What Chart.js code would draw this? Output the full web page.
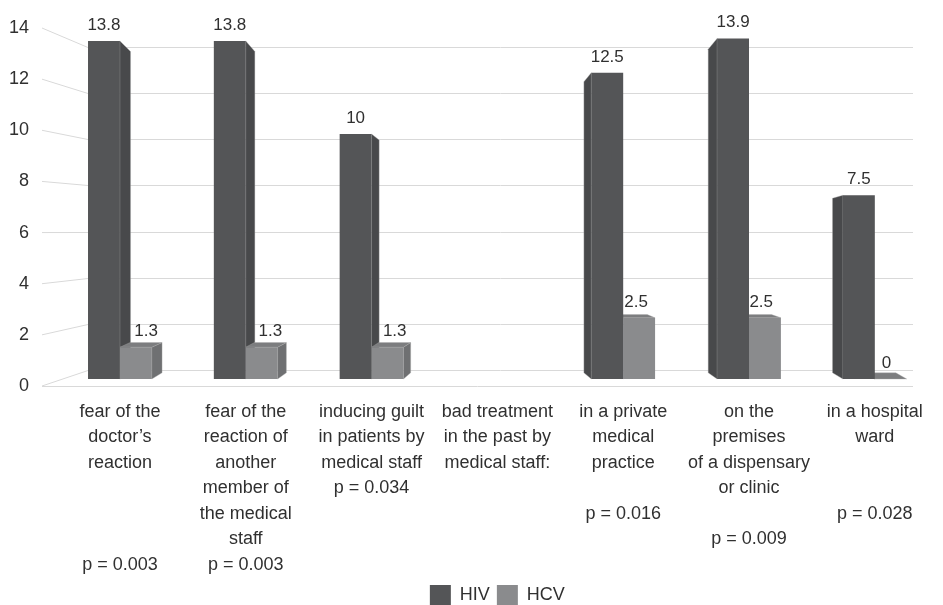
<!DOCTYPE html>
<html>
<head>
<meta charset="utf-8">
<script src="https://cdn.jsdelivr.net/npm/chart.js@4.4.1/dist/chart.umd.min.js"></script>
<style>
  html, body { margin: 0; padding: 0; background: #fff; overflow: hidden; }
  #wrap { width: 943px; height: 616px; }
</style>
</head>
<body>
<div id="wrap"><canvas id="ch"></canvas></div>
<script>
/* ---------- Data ---------- */
const CATEGORIES = [
  ['fear of the', 'doctor’s', 'reaction', '', '', '', 'p = 0.003'],
  ['fear of the', 'reaction of', 'another', 'member of', 'the medical', 'staff', 'p = 0.003'],
  ['inducing guilt', 'in patients by', 'medical staff', 'p = 0.034'],
  ['bad treatment', 'in the past by', 'medical staff:'],
  ['in a private', 'medical', 'practice', '', 'p = 0.016'],
  ['on the', 'premises', 'of a dispensary', 'or clinic', '', 'p = 0.009'],
  ['in a hospital', 'ward', '', '', 'p = 0.028'],
];
const HIV = [13.8, 13.8, 10, null, 12.5, 13.9, 7.5];
const HCV = [1.3, 1.3, 1.3, null, 2.5, 2.5, 0];
const Y_MIN = 0;
const Y_MAX = 14;
const Y_STEP = 2;

/* ---------- Fake 3D look (Excel style walls + box faces) ---------- */
const TEXT = '#303030';
const FONT = "'Liberation Sans', Arial, sans-serif";
const WALL = {
  labelX: 29, frontX: 42, backX: 88, rightX: 913,
  labelTop: 28, labelBottom: 386, backTop: 47, backBottom: 370, floorFront: 386,
};
const VP = { x: 490, y: 255 }; // rough vanishing point of the projection
const FACES = [
  { side: '#48494b', top: '#505153' },
  { side: '#6f7072', top: '#7c7d7f' },
];

function depth(x, y) {
  const d = VP.x - x;
  return { dx: Math.sign(d) * (6 + 0.012 * Math.abs(d)), dy: 0.05 * (VP.y - y) };
}

function poly(ctx, pts, fill) {
  ctx.beginPath();
  pts.forEach(([px, py], i) => (i ? ctx.lineTo(px, py) : ctx.moveTo(px, py)));
  ctx.closePath();
  ctx.fillStyle = fill;
  ctx.fill();
  ctx.strokeStyle = 'rgba(170,170,170,0.45)';
  ctx.lineWidth = 0.8;
  ctx.stroke();
}

function wallY(scale, v, bottom, top) {
  const f = (scale.bottom - scale.getPixelForValue(v)) / (scale.bottom - scale.top);
  return bottom - f * (bottom - top);
}

const perspective = {
  id: 'perspective',
  beforeDatasetsDraw(chart) {
    const { ctx } = chart;
    const ys = chart.scales.y;
    ctx.save();
    ctx.strokeStyle = '#d9d9d9';
    ctx.lineWidth = 1;
    ys.ticks.forEach((t) => {
      const yl = wallY(ys, t.value, WALL.labelBottom, WALL.labelTop);
      const yb = Math.round(wallY(ys, t.value, WALL.backBottom, WALL.backTop)) + 0.5;
      ctx.beginPath();
      ctx.moveTo(WALL.frontX, yl);
      ctx.lineTo(WALL.backX, yb);
      ctx.lineTo(WALL.rightX, yb);
      ctx.stroke();
    });
    // front edge of the floor
    ctx.beginPath();
    ctx.moveTo(WALL.frontX, WALL.floorFront + 0.5);
    ctx.lineTo(WALL.rightX, WALL.floorFront + 0.5);
    ctx.stroke();

    // side + top faces, series in order so HCV covers the HIV side face
    chart.data.datasets.forEach((ds, i) => {
      chart.getDatasetMeta(i).data.forEach((bar, j) => {
        if (ds.data[j] == null) return;
        const x0 = bar.x - bar.width / 2;
        const x1 = bar.x + bar.width / 2;
        const dt = depth(bar.x, bar.y);
        const db = depth(bar.x, bar.base);
        const sx = dt.dx > 0 ? x1 : x0;
        poly(ctx, [[sx, bar.y], [sx + dt.dx, bar.y + dt.dy], [sx + dt.dx, bar.base + db.dy], [sx, bar.base]], FACES[i].side);
        if (dt.dy < 0) {
          poly(ctx, [[x0, bar.y], [x1, bar.y], [x1 + dt.dx, bar.y + dt.dy], [x0 + dt.dx, bar.y + dt.dy]], FACES[i].top);
        }
      });
    });
    ctx.restore();
  },
  afterDatasetsDraw(chart) {
    const { ctx } = chart;
    ctx.save();
    ctx.font = '17px ' + FONT;
    ctx.fillStyle = TEXT;
    ctx.textAlign = 'center';
    ctx.textBaseline = 'alphabetic';
    chart.data.datasets.forEach((ds, i) => {
      chart.getDatasetMeta(i).data.forEach((bar, j) => {
        if (ds.data[j] == null) return;
        const dt = depth(bar.x, bar.y);
        // short boxes show their top face, the label follows it a bit
        const shift = dt.dy < 0 ? (dt.dx > 0 ? dt.dx : dt.dx * 0.4) : 0;
        ctx.fillText(String(ds.data[j]), bar.x + shift, bar.y - 11);
      });
    });
    // y tick labels sit on the slanted left wall
    const ys = chart.scales.y;
    ctx.font = '18px ' + FONT;
    ctx.textAlign = 'right';
    ctx.textBaseline = 'middle';
    ys.ticks.forEach((t) => {
      ctx.fillText(String(t.value), WALL.labelX, wallY(ys, t.value, WALL.labelBottom, WALL.labelTop));
    });
    ctx.restore();
  },
};

/* ---------- Chart ---------- */
Chart.defaults.font.family = FONT;
Chart.defaults.color = TEXT;

new Chart(document.getElementById('ch'), {
  type: 'bar',
  data: {
    labels: CATEGORIES,
    datasets: [
      { label: 'HIV', data: HIV, backgroundColor: '#545557', borderWidth: 0, categoryPercentage: 0.507, barPercentage: 1 },
      { label: 'HCV', data: HCV, backgroundColor: '#8a8b8d', borderWidth: 0, categoryPercentage: 0.507, barPercentage: 1 },
    ],
  },
  options: {
    responsive: true,
    maintainAspectRatio: false,
    animation: false,
    layout: { padding: { top: 36, right: 2, left: 0, bottom: 0 } },
    plugins: {
      legend: {
        position: 'bottom',
        fullSize: false,
        labels: { boxWidth: 21, boxHeight: 21, padding: 7, color: TEXT, font: { size: 18 } },
      },
      tooltip: { enabled: false },
    },
    scales: {
      x: {
        grid: { display: false, drawTicks: false },
        border: { display: false },
        ticks: { color: TEXT, font: { size: 18, lineHeight: '25.5px' }, padding: 20, maxRotation: 0, autoSkip: false },
        afterFit: (s) => { s.height = 199; },
      },
      y: {
        min: Y_MIN,
        max: Y_MAX,
        ticks: { stepSize: Y_STEP, display: false },
        grid: { display: false },
        border: { display: false },
        afterFit: (s) => { s.width = 57; },
      },
    },
  },
  plugins: [perspective],
});
</script>
</body>
</html>
